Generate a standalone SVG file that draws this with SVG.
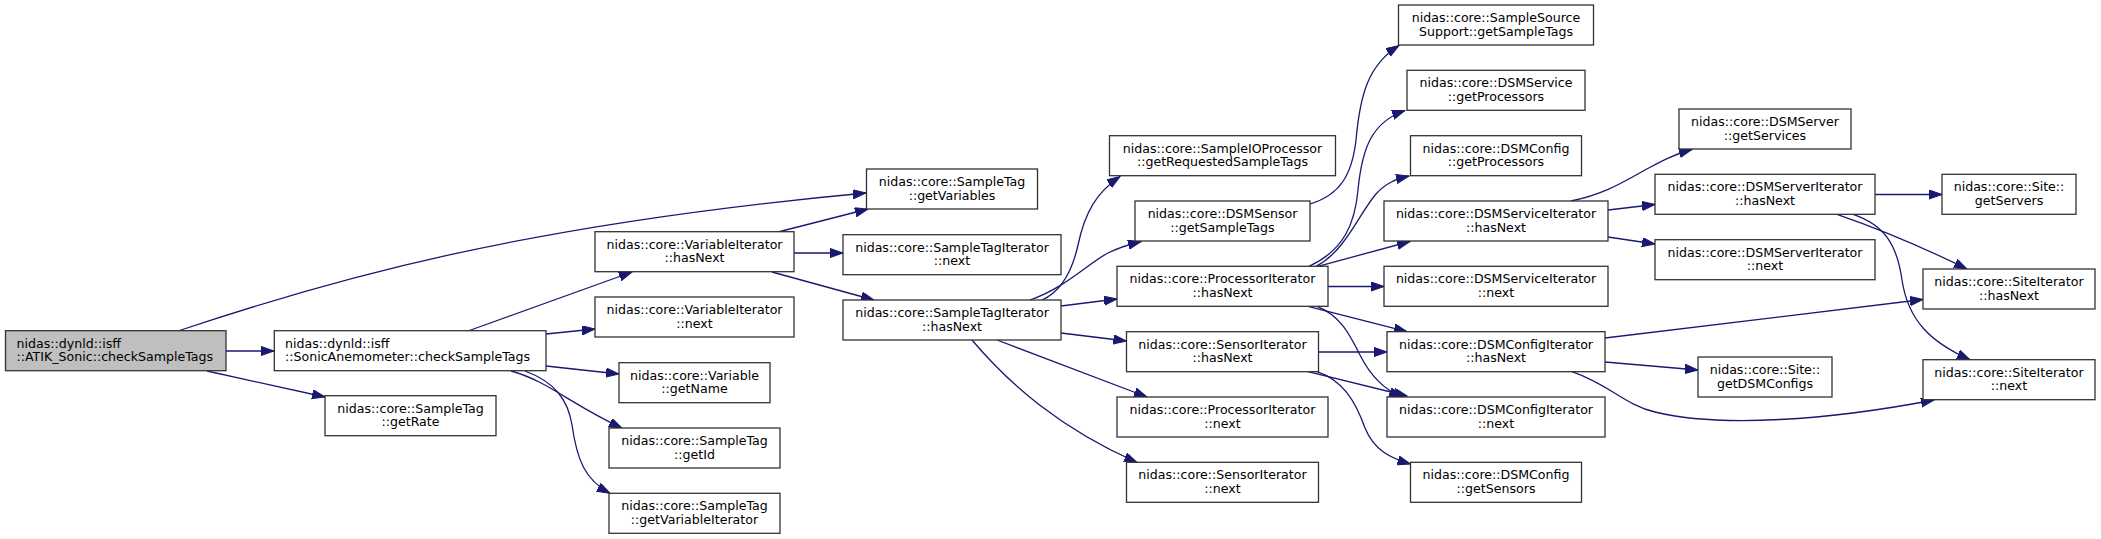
<svg xmlns="http://www.w3.org/2000/svg" width="2101" height="539" viewBox="0 0 2101 539">
<style>
.n rect{fill:#fff;stroke:#333;stroke-width:1.3}
.n.root rect{fill:#bfbfbf}
.n text{font-family:"DejaVu Sans",sans-serif;font-size:12.6px;fill:#000;text-anchor:middle}
.n text.l{text-anchor:start}
#edges path{fill:none;stroke:#191970;stroke-width:1.3;marker-end:url(#a)}
</style>
<defs>
<marker id="a" markerUnits="userSpaceOnUse" markerWidth="14" markerHeight="10" refX="13" refY="4.6" orient="auto" viewBox="0 0 14 10">
<path d="M0,0 L13,4.6 L0,9.2 z" fill="#191970" stroke="#191970" stroke-width="1"/>
</marker>
</defs>
<rect width="2101" height="539" fill="#fff"/>
<g id="edges">
<path d="M178,331 C330,280 520,225 866,193"/>
<path d="M226,351 L274,351"/>
<path d="M207,371 L325,397"/>
<path d="M468,331 L632,272"/>
<path d="M546,334 L595,329"/>
<path d="M546,366 L619,374"/>
<path d="M511,371 C548,381 570,404 622,428"/>
<path d="M525,371 C555,382 568,400 572,425 C577,460 585,480 610,493.3"/>
<path d="M778,232 L868,209"/>
<path d="M794,253 L843,253"/>
<path d="M772,272 L874,300"/>
<path d="M1042,300 C1060,292 1072,272 1078,245 C1085,212 1097,192 1120,176.5"/>
<path d="M1030,300 C1065,288 1090,262 1108,253 C1118,248 1127,245 1141,241.5"/>
<path d="M1061,306 L1117,299"/>
<path d="M1061,333 L1126.5,341"/>
<path d="M997,340 L1147,397"/>
<path d="M972,340 C1010,385 1060,428 1137,462.5"/>
<path d="M1310,204 C1340,195 1352,175 1356,140 C1360,95 1368,65 1399,45.5"/>
<path d="M1309,266.3 C1345,250 1355,222 1358,190 C1362,148 1372,122 1405,110.5"/>
<path d="M1316,266.3 C1345,252 1360,212 1376,194 C1386,183 1396,179 1409,176"/>
<path d="M1318,266.3 L1410,241.5"/>
<path d="M1328,286.5 L1384,286.5"/>
<path d="M1308,306.3 L1407,331.7"/>
<path d="M1317,306.3 C1340,315 1350,335 1360,355 C1370,375 1385,390 1402,397"/>
<path d="M1318.5,352 L1387,352"/>
<path d="M1308,371.7 L1407,396"/>
<path d="M1317,371.7 C1342,380 1355,400 1365,428 C1374,450 1390,458 1410.5,464"/>
<path d="M1571,201 C1605,194 1625,181 1645,170 C1660,162 1672,155 1692,149.5"/>
<path d="M1608,210 L1655,204.5"/>
<path d="M1608,237 L1655,244"/>
<path d="M1875,194.5 L1942,194.5"/>
<path d="M1837,214.3 Q1900,236 1967,269"/>
<path d="M1853,214.3 C1885,225 1897,245 1902,280 C1908,320 1930,342 1970,359.7"/>
<path d="M1605,338 L1923,299.5"/>
<path d="M1605,362 L1698,370"/>
<path d="M1572,371.7 C1610,385 1625,405 1655,412 C1720,428 1830,420 1934,400"/>
</g>
<g id="n_atik" class="n root"><rect x="5.5" y="330.7" width="220.5" height="40"/><text class="l" x="16.5" y="347.5">nidas::dynld::isff</text><text class="l" x="16.5" y="361.3">::ATIK_Sonic::checkSampleTags</text></g>
<g id="n_sonic" class="n"><rect x="274.3" y="330.7" width="271.7" height="40"/><text class="l" x="285" y="347.5">nidas::dynld::isff</text><text class="l" x="285" y="361.3">::SonicAnemometer::checkSampleTags</text></g>
<g id="n_getRate" class="n"><rect x="325" y="395.7" width="171" height="40"/><text x="410.5" y="412.5">nidas::core::SampleTag</text><text x="410.5" y="426.3">::getRate</text></g>
<g id="n_getVariables" class="n"><rect x="866.5" y="169" width="171" height="40"/><text x="952" y="185.8">nidas::core::SampleTag</text><text x="952" y="199.6">::getVariables</text></g>
<g id="n_varIterHasNext" class="n"><rect x="595" y="231.7" width="199" height="40"/><text x="694.5" y="248.5">nidas::core::VariableIterator</text><text x="694.5" y="262.3">::hasNext</text></g>
<g id="n_varIterNext" class="n"><rect x="595" y="297" width="199" height="40"/><text x="694.5" y="313.8">nidas::core::VariableIterator</text><text x="694.5" y="327.6">::next</text></g>
<g id="n_getName" class="n"><rect x="619" y="362.7" width="151" height="40"/><text x="694.5" y="379.5">nidas::core::Variable</text><text x="694.5" y="393.3">::getName</text></g>
<g id="n_getId" class="n"><rect x="609" y="428" width="171" height="40"/><text x="694.5" y="444.8">nidas::core::SampleTag</text><text x="694.5" y="458.6">::getId</text></g>
<g id="n_getVariableIterator" class="n"><rect x="609" y="493.3" width="171" height="40"/><text x="694.5" y="510.1">nidas::core::SampleTag</text><text x="694.5" y="523.9">::getVariableIterator</text></g>
<g id="n_stiNext" class="n"><rect x="843" y="234.7" width="218" height="40"/><text x="952" y="251.5">nidas::core::SampleTagIterator</text><text x="952" y="265.3">::next</text></g>
<g id="n_stiHasNext" class="n"><rect x="843" y="300" width="218" height="40"/><text x="952" y="316.8">nidas::core::SampleTagIterator</text><text x="952" y="330.6">::hasNext</text></g>
<g id="n_sampleIOProc" class="n"><rect x="1109.5" y="135.7" width="226" height="40"/><text x="1222.5" y="152.5">nidas::core::SampleIOProcessor</text><text x="1222.5" y="166.3">::getRequestedSampleTags</text></g>
<g id="n_dsmSensor" class="n"><rect x="1135" y="201" width="175" height="40"/><text x="1222.5" y="217.8">nidas::core::DSMSensor</text><text x="1222.5" y="231.6">::getSampleTags</text></g>
<g id="n_procIterHasNext" class="n"><rect x="1117" y="266.3" width="211" height="40"/><text x="1222.5" y="283.1">nidas::core::ProcessorIterator</text><text x="1222.5" y="296.9">::hasNext</text></g>
<g id="n_sensorIterHasNext" class="n"><rect x="1126.5" y="331.7" width="192" height="40"/><text x="1222.5" y="348.5">nidas::core::SensorIterator</text><text x="1222.5" y="362.3">::hasNext</text></g>
<g id="n_procIterNext" class="n"><rect x="1117" y="397" width="211" height="40"/><text x="1222.5" y="413.8">nidas::core::ProcessorIterator</text><text x="1222.5" y="427.6">::next</text></g>
<g id="n_sensorIterNext" class="n"><rect x="1126.5" y="462.3" width="192" height="40"/><text x="1222.5" y="479.1">nidas::core::SensorIterator</text><text x="1222.5" y="492.9">::next</text></g>
<g id="n_sampleSource" class="n"><rect x="1398.5" y="5" width="195" height="40"/><text x="1496" y="21.8">nidas::core::SampleSource</text><text x="1496" y="35.6">Support::getSampleTags</text></g>
<g id="n_dsmServiceGetProc" class="n"><rect x="1407" y="70.3" width="178" height="40"/><text x="1496" y="87.1">nidas::core::DSMService</text><text x="1496" y="100.9">::getProcessors</text></g>
<g id="n_dsmConfigGetProc" class="n"><rect x="1410.5" y="135.7" width="171" height="40"/><text x="1496" y="152.5">nidas::core::DSMConfig</text><text x="1496" y="166.3">::getProcessors</text></g>
<g id="n_dsmServiceIterHasNext" class="n"><rect x="1384" y="201" width="224" height="40"/><text x="1496" y="217.8">nidas::core::DSMServiceIterator</text><text x="1496" y="231.6">::hasNext</text></g>
<g id="n_dsmServiceIterNext" class="n"><rect x="1384" y="266.3" width="224" height="40"/><text x="1496" y="283.1">nidas::core::DSMServiceIterator</text><text x="1496" y="296.9">::next</text></g>
<g id="n_dsmConfigIterHasNext" class="n"><rect x="1387" y="331.7" width="218" height="40"/><text x="1496" y="348.5">nidas::core::DSMConfigIterator</text><text x="1496" y="362.3">::hasNext</text></g>
<g id="n_dsmConfigIterNext" class="n"><rect x="1387" y="397" width="218" height="40"/><text x="1496" y="413.8">nidas::core::DSMConfigIterator</text><text x="1496" y="427.6">::next</text></g>
<g id="n_dsmConfigGetSensors" class="n"><rect x="1410.5" y="462.3" width="171" height="40"/><text x="1496" y="479.1">nidas::core::DSMConfig</text><text x="1496" y="492.9">::getSensors</text></g>
<g id="n_dsmServerGetServices" class="n"><rect x="1679" y="109" width="172" height="40"/><text x="1765" y="125.8">nidas::core::DSMServer</text><text x="1765" y="139.6">::getServices</text></g>
<g id="n_dsmServerIterHasNext" class="n"><rect x="1655" y="174.3" width="220" height="40"/><text x="1765" y="191.1">nidas::core::DSMServerIterator</text><text x="1765" y="204.9">::hasNext</text></g>
<g id="n_dsmServerIterNext" class="n"><rect x="1655" y="239.7" width="220" height="40"/><text x="1765" y="256.5">nidas::core::DSMServerIterator</text><text x="1765" y="270.3">::next</text></g>
<g id="n_siteGetDSMConfigs" class="n"><rect x="1698" y="357" width="134" height="40"/><text x="1765" y="373.8">nidas::core::Site::</text><text x="1765" y="387.6">getDSMConfigs</text></g>
<g id="n_siteGetServers" class="n"><rect x="1942" y="174.3" width="134" height="40"/><text x="2009" y="191.1">nidas::core::Site::</text><text x="2009" y="204.9">getServers</text></g>
<g id="n_siteIterHasNext" class="n"><rect x="1923" y="269" width="172" height="40"/><text x="2009" y="285.8">nidas::core::SiteIterator</text><text x="2009" y="299.6">::hasNext</text></g>
<g id="n_siteIterNext" class="n"><rect x="1923" y="359.7" width="172" height="40"/><text x="2009" y="376.5">nidas::core::SiteIterator</text><text x="2009" y="390.3">::next</text></g>
</svg>
